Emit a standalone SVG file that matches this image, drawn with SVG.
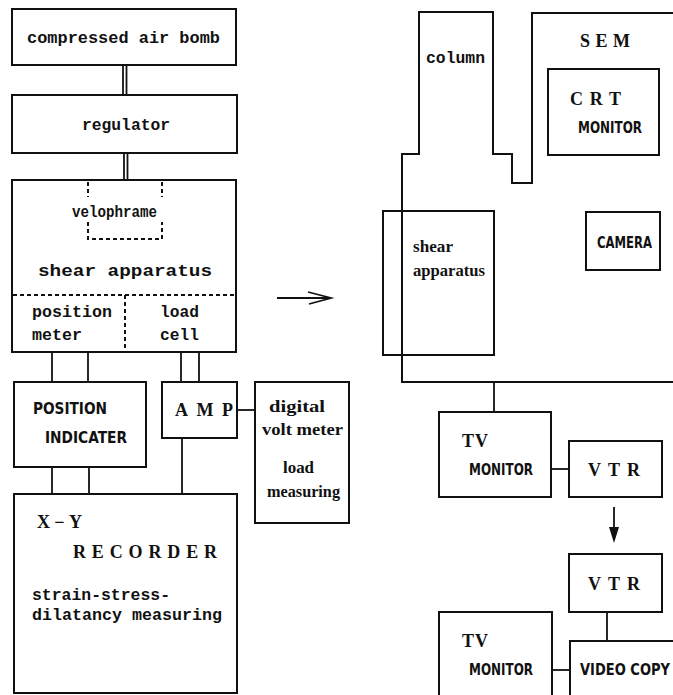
<svg xmlns="http://www.w3.org/2000/svg" width="673" height="695" viewBox="0 0 673 695">
<style>
.b{fill:#fff;stroke:#111;stroke-width:2}
.o{fill:none;stroke:#111;stroke-width:2}
.c{fill:none;stroke:#111;stroke-width:1.8}
.d{fill:none;stroke:#111;stroke-width:2;stroke-dasharray:4 3}
.m{font-family:"Liberation Mono","DejaVu Sans Mono",monospace;font-weight:bold;font-size:16.5px;fill:#111}
.n{font-family:"DejaVu Sans Condensed","Liberation Sans",sans-serif;font-weight:bold;font-size:15px;fill:#111}
.w{font-family:"Liberation Serif","DejaVu Serif",serif;font-weight:bold;font-size:18px;fill:#111}
.s{font-family:"Liberation Serif","DejaVu Serif",serif;font-weight:bold;font-size:16px;fill:#111}
</style>
<rect width="673" height="695" fill="#fff"/>
<g id="connectors">
<line class="c" x1="123" y1="65" x2="123" y2="95" stroke-width="1.2"/>
<line class="c" x1="126.5" y1="65" x2="126.5" y2="95" stroke-width="1.2"/>
<line class="c" x1="124" y1="153" x2="124" y2="180" stroke-width="1.2"/>
<line class="c" x1="127.5" y1="153" x2="127.5" y2="180" stroke-width="1.2"/>
<line class="c" x1="52" y1="352" x2="52" y2="382"/>
<line class="c" x1="88" y1="352" x2="88" y2="382"/>
<line class="c" x1="181" y1="352" x2="181" y2="382"/>
<line class="c" x1="199" y1="352" x2="199" y2="382"/>
<line class="c" x1="237" y1="410" x2="255" y2="410"/>
<line class="c" x1="52" y1="467" x2="52" y2="494"/>
<line class="c" x1="89" y1="467" x2="89" y2="494"/>
<line class="c" x1="182" y1="438" x2="182" y2="494"/>
<line class="c" x1="277" y1="298" x2="330" y2="298" stroke-width="3"/>
<polyline class="c" points="308,292 331,298 309,304" stroke-width="3"/>
<line class="c" x1="494" y1="382" x2="494" y2="412"/>
<line class="c" x1="551" y1="469" x2="569" y2="469"/>
<line class="c" x1="614" y1="507" x2="614" y2="530" stroke-width="2.5"/>
<polygon points="609,527 619,527 614,543" fill="#111"/>
<line class="c" x1="607" y1="612" x2="607" y2="641"/>
<line class="c" x1="552" y1="670" x2="570" y2="670"/>
</g>
<g id="compressed-air-bomb">
<rect class="b" x="12" y="9" width="224" height="56"/>
<text class="m" x="27" y="43" textLength="193" lengthAdjust="spacingAndGlyphs">compressed air bomb</text>
</g>
<g id="regulator">
<rect class="b" x="12" y="95" width="225" height="58"/>
<text class="m" x="82" y="130" textLength="88" lengthAdjust="spacingAndGlyphs">regulator</text>
</g>
<g id="shear-apparatus">
<rect class="b" x="12" y="180" width="224" height="172"/>
<polyline class="d" points="88,182 88,197"/>
<polyline class="d" points="162,182 162,197"/>
<polyline class="d" points="88,222 88,239 162,239 162,222"/>
<text class="m" x="72" y="217" textLength="85" lengthAdjust="spacingAndGlyphs">velophrame</text>
<text class="m" x="38" y="276" font-size="19" textLength="174" lengthAdjust="spacingAndGlyphs">shear apparatus</text>
<line class="d" x1="13" y1="295" x2="235" y2="295"/>
<line class="d" x1="125" y1="295" x2="125" y2="351"/>
<text class="m" x="32" y="317" textLength="80" lengthAdjust="spacingAndGlyphs">position</text>
<text class="m" x="32" y="340" textLength="50" lengthAdjust="spacingAndGlyphs">meter</text>
<text class="m" x="160" y="317" textLength="39" lengthAdjust="spacingAndGlyphs">load</text>
<text class="m" x="160" y="340" textLength="39" lengthAdjust="spacingAndGlyphs">cell</text>
</g>
<g id="position-indicater">
<rect class="b" x="14" y="382" width="132" height="85"/>
<text class="n" x="33" y="414" textLength="74" lengthAdjust="spacingAndGlyphs">POSITION</text>
<text class="n" x="45" y="443" textLength="82" lengthAdjust="spacingAndGlyphs">INDICATER</text>
</g>
<g id="amp">
<rect class="b" x="162" y="382" width="75" height="56"/>
<text class="w" x="175" y="416" font-size="19" textLength="58" lengthAdjust="spacing">AMP</text>
</g>
<g id="digital-volt-meter">
<rect class="b" x="255" y="382" width="94" height="141"/>
<text class="s" x="269" y="412" textLength="56" lengthAdjust="spacingAndGlyphs">digital</text>
<text class="s" x="262" y="435" textLength="81" lengthAdjust="spacingAndGlyphs">volt meter</text>
<text class="s" x="283" y="473" textLength="31" lengthAdjust="spacingAndGlyphs">load</text>
<text class="s" x="267" y="497" textLength="73" lengthAdjust="spacingAndGlyphs">measuring</text>
</g>
<g id="xy-recorder">
<rect class="b" x="14" y="494" width="223" height="199"/>
<text class="w" x="37" y="528" textLength="45" lengthAdjust="spacing">X−Y</text>
<text class="w" x="73" y="558" font-size="19" textLength="144" lengthAdjust="spacing">RECORDER</text>
<text class="m" x="32" y="600" textLength="138" lengthAdjust="spacingAndGlyphs">strain-stress-</text>
<text class="m" x="32" y="620" textLength="190" lengthAdjust="spacingAndGlyphs">dilatancy measuring</text>
</g>
<g id="sem">
<path class="o" d="M673 13 L532 13 L532 183 L512 183 L512 154 L493 154 L493 12 L419 12 L419 154 L402 154 L402 382 L673 382"/>
<text class="m" x="426" y="63" textLength="59" lengthAdjust="spacingAndGlyphs">column</text>
<text class="w" x="580" y="47" font-size="16" textLength="50" lengthAdjust="spacing">SEM</text>
</g>
<g id="crt-monitor">
<rect class="b" x="548" y="69" width="111" height="86"/>
<text class="w" x="570" y="105" textLength="51" lengthAdjust="spacing">CRT</text>
<text class="n" x="578" y="133" textLength="64" lengthAdjust="spacingAndGlyphs">MONITOR</text>
</g>
<g id="sem-shear-apparatus">
<rect class="o" x="383" y="211" width="111" height="144"/>
<text class="s" x="413" y="252" textLength="40" lengthAdjust="spacingAndGlyphs">shear</text>
<text class="s" x="413" y="276" textLength="72" lengthAdjust="spacingAndGlyphs">apparatus</text>
</g>
<g id="camera">
<rect class="b" x="586" y="212" width="74" height="58"/>
<text class="n" x="597" y="248" textLength="55" lengthAdjust="spacingAndGlyphs">CAMERA</text>
</g>
<g id="tv-monitor-1">
<rect class="b" x="439" y="412" width="112" height="85"/>
<text class="w" x="462" y="447" textLength="26" lengthAdjust="spacing">TV</text>
<text class="n" x="469" y="475" textLength="64" lengthAdjust="spacingAndGlyphs">MONITOR</text>
</g>
<g id="vtr-1">
<rect class="b" x="569" y="441" width="93" height="56"/>
<text class="w" x="588" y="476" textLength="52" lengthAdjust="spacing">VTR</text>
</g>
<g id="vtr-2">
<rect class="b" x="569" y="554" width="93" height="58"/>
<text class="w" x="588" y="590" textLength="52" lengthAdjust="spacing">VTR</text>
</g>
<g id="tv-monitor-2">
<rect class="b" x="439" y="612" width="113" height="90"/>
<text class="w" x="462" y="647" textLength="26" lengthAdjust="spacing">TV</text>
<text class="n" x="469" y="675" textLength="64" lengthAdjust="spacingAndGlyphs">MONITOR</text>
</g>
<g id="video-copy">
<rect class="b" x="570" y="641" width="110" height="60"/>
<text class="n" x="580" y="675" textLength="90" lengthAdjust="spacingAndGlyphs">VIDEO COPY</text>
</g>
</svg>
